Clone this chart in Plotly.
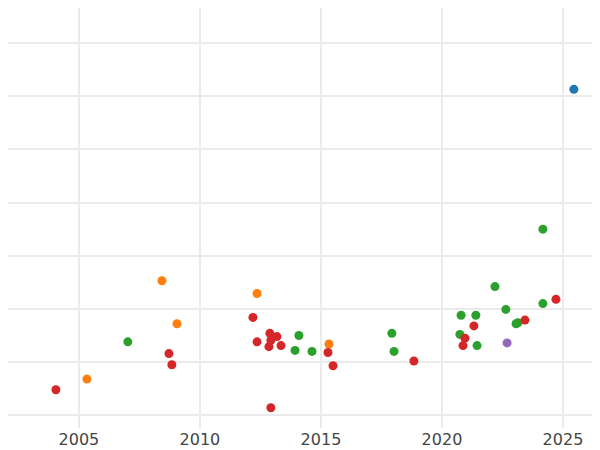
import plotly.graph_objects as go

blue_x = [2025.45]
blue_y = [6.13]
green_x = [2024.17, 2022.19, 2022.64, 2024.17, 2020.79, 2021.40, 2023.14, 2023.06, 2020.74, 2021.45,
           2017.93, 2018.02, 2014.09, 2013.93, 2014.63, 2007.02]
green_y = [3.50, 2.42, 1.99, 2.10, 1.88, 1.88, 1.74, 1.72, 1.52, 1.31,
           1.54, 1.20, 1.50, 1.22, 1.20, 1.38]
orange_x = [2008.43, 2012.36, 2009.05, 2015.33, 2005.33]
orange_y = [2.53, 2.29, 1.72, 1.34, 0.68]
red_x = [2024.71, 2023.43, 2021.32, 2020.95, 2020.87, 2018.84, 2012.19, 2012.89, 2013.18, 2012.93,
         2012.36, 2012.85, 2013.35, 2015.29, 2015.50, 2008.72, 2008.84, 2004.05, 2012.93]
red_y = [2.18, 1.79, 1.68, 1.45, 1.31, 1.02, 1.84, 1.54, 1.48, 1.41,
         1.38, 1.29, 1.31, 1.18, 0.93, 1.16, 0.95, 0.48, 0.14]
purple_x = [2022.69]
purple_y = [1.36]

series = [(blue_x, blue_y, "#1f77b4"), (orange_x, orange_y, "#ff7f0e"),
          (green_x, green_y, "#2ca02c"), (red_x, red_y, "#d62728"),
          (purple_x, purple_y, "#9467bd")]

fig = go.Figure()
for xs, ys, c in series:
    fig.add_trace(go.Scatter(x=xs, y=ys, mode="markers",
                             marker=dict(color=c, size=9), showlegend=False))

fig.update_layout(
    width=600, height=450, margin=dict(l=0, r=0, t=0, b=30, pad=0, autoexpand=False),
    plot_bgcolor="white", paper_bgcolor="white",
    font=dict(family="DejaVu Sans", size=16, color="#444"),
    xaxis=dict(range=[2002.07, 2026.86], tickmode="linear", tick0=2005, dtick=5,
               showgrid=True, gridcolor="#ebebeb", gridwidth=2, zeroline=False,
               showline=False, ticks="", automargin=False),
    yaxis=dict(range=[-0.24, 7.66], tickmode="linear", tick0=1, dtick=1,
               showgrid=True, gridcolor="#ebebeb", gridwidth=1.5, zeroline=False,
               showticklabels=False, showline=False, ticks="", automargin=False),
)
fig.write_html("out.html")
